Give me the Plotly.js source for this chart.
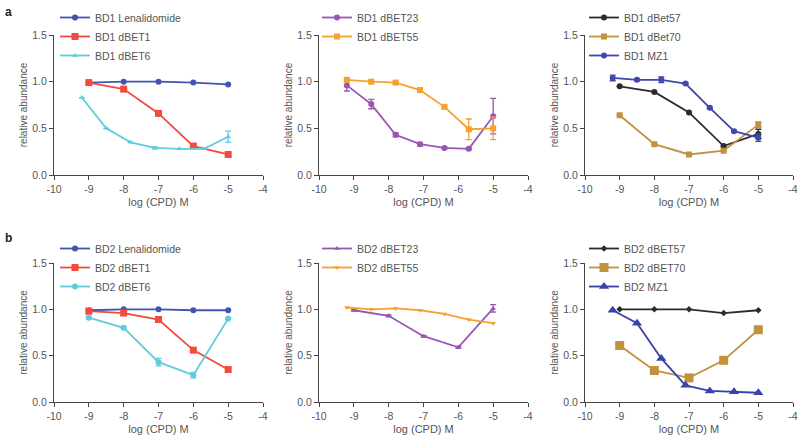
<!DOCTYPE html>
<html>
<head>
<meta charset="utf-8">
<script src="https://cdn.plot.ly/plotly-3.0.1.min.js"></script>
<style>
  html, body { margin: 0; padding: 0; background: #fff; }
  #chart { width: 800px; height: 438px; }
</style>
</head>
<body>
<div id="chart"></div>
<script>
// dose positions (log M)
const xTenfold = [-9, -8, -7, -6, -5];
const xFivefold = [-9.2, -8.5, -7.8, -7.1, -6.4, -5.7, -5.0];

const xTickVals = [-10, -9, -8, -7, -6, -5, -4];
const xTickText = ["-10", "-9", "-8", "-7", "-6", "-5", "-4"];

// panel a (BD1)
const bd1Lenalidomide = [0.99, 1.0, 1.0, 0.99, 0.97];
const bd1dBET1 = [0.99, 0.92, 0.66, 0.31, 0.22];
const bd1dBET6 = [0.83, 0.5, 0.35, 0.29, 0.28, 0.28, 0.41];
const bd1dBET6Err = [0, 0, 0, 0.01, 0, 0, 0.06];
const bd1dBET23 = [0.96, 0.76, 0.43, 0.33, 0.29, 0.28, 0.63];
const bd1dBET23Err = [0.06, 0.05, 0.02, 0.02, 0.01, 0.01, 0.19];
const bd1dBET55 = [1.02, 1.0, 0.99, 0.91, 0.73, 0.49, 0.5];
const bd1dBET55Err = [0.01, 0.01, 0.01, 0.01, 0.01, 0.11, 0.12];
const bd1dBet57 = [0.95, 0.89, 0.67, 0.31, 0.44];
const bd1dBet57Err = [0, 0, 0, 0.01, 0.05];
const bd1dBet70 = [0.64, 0.33, 0.22, 0.26, 0.54];
const bd1dBet70Err = [0, 0, 0, 0, 0.03];
const bd1MZ1 = [1.04, 1.02, 1.02, 0.98, 0.72, 0.47, 0.4];
const bd1MZ1Err = [0.03, 0.01, 0.03, 0.01, 0.01, 0.01, 0.04];

// panel b (BD2)
const bd2Lenalidomide = [0.99, 1.0, 1.0, 0.99, 0.99];
const bd2dBET1 = [0.98, 0.96, 0.89, 0.56, 0.35];
const bd2dBET6 = [0.91, 0.8, 0.43, 0.29, 0.9];
const bd2dBET6Err = [0.01, 0.01, 0.04, 0.03, 0.01];
const bd2dBET23 = [0.99, 0.93, 0.71, 0.59, 1.01];
const bd2dBET23Err = [0.01, 0.01, 0.01, 0.01, 0.04];
const bd2dBET55 = [1.02, 1.0, 1.01, 0.99, 0.95, 0.89, 0.85];
const bd2dBET57 = [1.0, 1.0, 1.0, 0.96, 0.99];
const bd2dBET70 = [0.61, 0.34, 0.26, 0.45, 0.78];
const bd2dBET70Err = [0.01, 0.04, 0.03, 0.02, 0.01];
const bd2MZ1 = [0.99, 0.85, 0.47, 0.18, 0.12, 0.11, 0.1];

const FONT = "Liberation Sans, Arial, sans-serif";

const mk = (name, x, y, color, symbol, size, axis, legend, err) => ({
  x: x,
  y: y,
  name: name,
  type: "scatter",
  mode: "lines+markers",
  xaxis: "x" + axis,
  yaxis: "y" + axis,
  legend: legend,
  line: { color: color, width: 1.8 },
  marker: { color: color, symbol: symbol, size: size },
  error_y: err
    ? { type: "data", array: err, visible: true, color: color, thickness: 1.3, width: 3 }
    : { visible: false },
  cliponaxis: false,
});

const data = [
  mk("BD1 Lenalidomide", xTenfold, bd1Lenalidomide, "#3f55b0", "circle", 6, "", "legend"),
  mk("BD1 dBET1", xTenfold, bd1dBET1, "#f24a3c", "square", 7, "", "legend"),
  mk("BD1 dBET6", xFivefold, bd1dBET6, "#62cbdb", "triangle-up", 5, "", "legend", bd1dBET6Err),

  mk("BD1 dBET23", xFivefold, bd1dBET23, "#9a55b3", "circle", 6, "2", "legend2", bd1dBET23Err),
  mk("BD1 dBET55", xFivefold, bd1dBET55, "#f7a030", "square", 6, "2", "legend2", bd1dBET55Err),

  mk("BD1 dBet57", xTenfold, bd1dBet57, "#2b2b2b", "circle", 6, "3", "legend3", bd1dBet57Err),
  mk("BD1 dBet70", xTenfold, bd1dBet70, "#c2913c", "square", 6, "3", "legend3", bd1dBet70Err),
  mk("BD1 MZ1", xFivefold, bd1MZ1, "#4048ad", "circle", 6, "3", "legend3", bd1MZ1Err),

  mk("BD2 Lenalidomide", xTenfold, bd2Lenalidomide, "#3f55b0", "circle", 6, "4", "legend4"),
  mk("BD2 dBET1", xTenfold, bd2dBET1, "#f24a3c", "square", 7, "4", "legend4"),
  mk("BD2 dBET6", xTenfold, bd2dBET6, "#62cbdb", "circle", 6, "4", "legend4", bd2dBET6Err),

  mk("BD2 dBET23", xTenfold, bd2dBET23, "#9a55b3", "triangle-up", 5, "5", "legend5", bd2dBET23Err),
  mk("BD2 dBET55", xFivefold, bd2dBET55, "#f7a030", "triangle-down", 5, "5", "legend5"),

  mk("BD2 dBET57", xTenfold, bd2dBET57, "#2b2b2b", "diamond", 5, "6", "legend6"),
  mk("BD2 dBET70", xTenfold, bd2dBET70, "#c2913c", "square", 9, "6", "legend6", bd2dBET70Err),
  mk("BD2 MZ1", xFivefold, bd2MZ1, "#3a42a8", "triangle-up", 9, "6", "legend6"),
];

const W = 800, H = 438;
const colX = [[54, 263], [319, 528], [585, 793]];
const rowY = [[35, 175], [263, 402]]; // top, bottom in px

const xax = (col) => ({
  domain: [colX[col][0] / W, colX[col][1] / W],
  range: [-10, -4],
  tickvals: xTickVals,
  ticktext: xTickText,
  showline: true,
  linecolor: "#444",
  linewidth: 1,
  ticks: "outside",
  ticklen: 4,
  tickcolor: "#444",
  showgrid: false,
  zeroline: false,
  tickfont: { size: 10.5, color: "#555", family: FONT },
  title: { text: "log (CPD) M", font: { size: 11, color: "#555", family: FONT }, standoff: 4 },
});

const yax = (row, anchor) => ({
  domain: [(H - rowY[row][1]) / H, (H - rowY[row][0]) / H],
  range: [0, 1.5],
  tickvals: [0, 0.5, 1.0, 1.5],
  tickformat: ".1f",
  anchor: anchor,
  showline: true,
  linecolor: "#444",
  linewidth: 1,
  ticks: "outside",
  ticklen: 4,
  tickcolor: "#444",
  showgrid: false,
  zeroline: false,
  tickfont: { size: 10.5, color: "#555", family: FONT },
  title: { text: "relative abundance", font: { size: 10, color: "#555", family: FONT }, standoff: 2 },
});

const leg = (px, py) => ({
  x: px / W,
  y: 1 - py / H,
  xanchor: "left",
  yanchor: "top",
  bgcolor: "rgba(0,0,0,0)",
  font: { size: 10.5, color: "#555", family: FONT },
  itemclick: false,
});

const layout = {
  width: W,
  height: H,
  margin: { l: 0, r: 0, t: 0, b: 0 },
  paper_bgcolor: "#fff",
  plot_bgcolor: "#fff",
  font: { family: FONT, color: "#555" },
  showlegend: true,
  xaxis: { ...xax(0), anchor: "y" },
  yaxis: yax(0, "x"),
  xaxis2: { ...xax(1), anchor: "y2" },
  yaxis2: yax(0, "x2"),
  xaxis3: { ...xax(2), anchor: "y3" },
  yaxis3: yax(0, "x3"),
  xaxis4: { ...xax(0), anchor: "y4" },
  yaxis4: yax(1, "x4"),
  xaxis5: { ...xax(1), anchor: "y5" },
  yaxis5: yax(1, "x5"),
  xaxis6: { ...xax(2), anchor: "y6" },
  yaxis6: yax(1, "x6"),
  legend: leg(55, 3),
  legend2: leg(317, 3),
  legend3: leg(584, 3),
  legend4: leg(55, 234),
  legend5: leg(317, 234),
  legend6: leg(584, 234),
  annotations: [
    { text: "<b>a</b>", x: 3 / W, y: 1 - 12 / H, xref: "paper", yref: "paper", xanchor: "left", yanchor: "middle", showarrow: false, font: { size: 12, color: "#222", family: FONT } },
    { text: "<b>b</b>", x: 3 / W, y: 1 - 238 / H, xref: "paper", yref: "paper", xanchor: "left", yanchor: "middle", showarrow: false, font: { size: 12, color: "#222", family: FONT } },
  ],
};

Plotly.newPlot("chart", data, layout, { displayModeBar: false, staticPlot: true });
</script>
</body>
</html>
